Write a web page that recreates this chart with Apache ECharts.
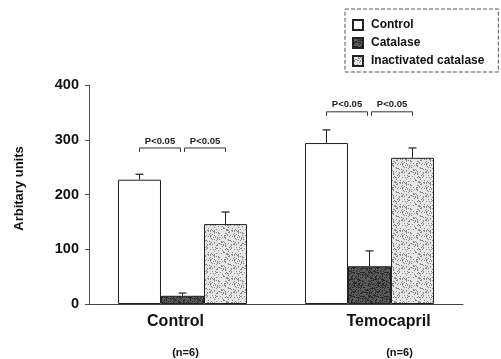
<!DOCTYPE html>
<html>
<head>
<meta charset="utf-8">
<script src="https://cdn.jsdelivr.net/npm/echarts@6/dist/echarts.min.js"></script>
<style>
  html, body { margin: 0; padding: 0; background: #fff; }
  #chart { width: 501px; height: 359px; }
</style>
</head>
<body>
<div id="chart"></div>
<script>
// donnees
const groups = ['Control', 'Temocapril'];
const groupN = ['(n=6)', '(n=6)'];
const seriesNames = ['Control', 'Catalase', 'Inactivated catalase'];
const controlMean = [227, 294];
const catalaseMean = [15, 69];
const inactMean = [146, 267];
const controlErr = [10, 24];
const catalaseErr = [5, 28];
const inactErr = [22, 18];
const bracketLevel = [285, 351];
const pLabel = 'P<0.05';

const gapPct = 31;
const fontFam = '"Liberation Sans", Arial, sans-serif';

// texture "granuleuse" (hachage fixe, pas d'aleatoire)
function makePattern(bg, dot, pct) {
    let n = 24;
    let c = document.createElement('canvas');
    c.width = n; c.height = n;
    let ctx = c.getContext('2d');
    ctx.fillStyle = bg;
    ctx.fillRect(0, 0, n, n);
    ctx.fillStyle = dot;
    for (let i = 0; i < n; i++) {
        for (let j = 0; j < n; j++) {
            let h = ((i * 73856093) ^ (j * 19349663) ^ (i * j * 83492791)) >>> 0;
            if (h % 100 < pct) ctx.fillRect(i, j, 1, 1);
        }
    }
    return { image: c, repeat: 'repeat' };
}

window.onload = init;

function init() {
    let chart = echarts.init(document.getElementById('chart'));

    let means = [controlMean, catalaseMean, inactMean];
    let errs = [controlErr, catalaseErr, inactErr];
    let colors = ['#ffffff', makePattern('#5a5a5a', '#2a2a2a', 35), makePattern('#e6e6e6', '#8a8a8a', 22)];

    let errData = [];
    for (let s = 0; s < 3; s++) {
        for (let g = 0; g < groups.length; g++) {
            errData.push([g, means[s][g], means[s][g] + errs[s][g], s]);
        }
    }
    let bracketData = bracketLevel.map((v, g) => [g, v]);

    function barOffset(api, s) {
        let band = api.size([1, 0])[0];
        let bw = band * (1 - gapPct / 100) / 3;
        return { bw: bw, off: (s - 1) * bw };
    }

    let series = seriesNames.map((name, s) => ({
        name: name,
        type: 'bar',
        data: means[s],
        barGap: '0%',
        barCategoryGap: gapPct + '%',
        itemStyle: { color: colors[s], borderColor: '#222', borderWidth: 1 }
    }));

    series.push({
        type: 'custom',
        data: errData,
        z: 5,
        silent: true,
        renderItem: function (params, api) {
            let g = api.value(0), s = api.value(3);
            let p0 = api.coord([g, api.value(1)]);
            let p1 = api.coord([g, api.value(2)]);
            let o = barOffset(api, s);
            let x = p0[0] + o.off;
            return {
                type: 'group',
                children: [
                    { type: 'line', shape: { x1: x, y1: p0[1], x2: x, y2: p1[1] }, style: { stroke: '#222', lineWidth: 1 } },
                    { type: 'line', shape: { x1: x - 4, y1: p1[1], x2: x + 4, y2: p1[1] }, style: { stroke: '#222', lineWidth: 1.2 } }
                ]
            };
        }
    });

    series.push({
        type: 'custom',
        data: bracketData,
        z: 5,
        silent: true,
        renderItem: function (params, api) {
            let p = api.coord([api.value(0), api.value(1)]);
            let o = barOffset(api, 0);
            let c0 = p[0] - o.bw, c1 = p[0], c2 = p[0] + o.bw;
            let y = p[1];
            let st = { stroke: '#333', lineWidth: 1, fill: null };
            let kids = [];
            [[c0, c1 - 2], [c1 + 2, c2]].forEach(seg => {
                kids.push({ type: 'polyline', shape: { points: [[seg[0], y + 4], [seg[0], y], [seg[1], y], [seg[1], y + 4]] }, style: st });
                kids.push({ type: 'text', style: { text: pLabel, x: (seg[0] + seg[1]) / 2, y: y - 2, align: 'center', verticalAlign: 'bottom', fontSize: 9.5, fontWeight: 'bold', fontFamily: fontFam, fill: '#222' } });
            });
            return { type: 'group', children: kids };
        }
    });

    let options = {
        animation: false,
        backgroundColor: '#ffffff',
        grid: { left: 89, right: 38, top: 85, bottom: 55 },
        legend: {
            data: seriesNames,
            orient: 'vertical',
            left: 345,
            top: 9,
            padding: [10, 14, 5, 7],
            icon: 'rect',
            itemWidth: 10,
            itemHeight: 10,
            itemGap: 6,
            borderColor: '#555',
            borderWidth: 1,
            borderType: 'dashed',
            textStyle: { fontSize: 12, fontFamily: fontFam, color: '#111', fontWeight: 'bold', padding: [0, 0, 0, 3] }
        },
        xAxis: {
            type: 'category',
            data: groups,
            axisLine: { lineStyle: { color: '#444', width: 1 } },
            axisTick: { show: false },
            axisLabel: {
                margin: 8,
                color: '#111',
                fontFamily: fontFam,
                formatter: function (v, i) {
                    return '{a' + i + '|' + v + '}\n{b' + i + '|' + groupN[i] + '}';
                },
                rich: {
                    a0: { fontSize: 16, fontWeight: 'bold', lineHeight: 20, padding: [0, 14, 0, 0], fontFamily: fontFam },
                    a1: { fontSize: 16, fontWeight: 'bold', lineHeight: 20, padding: [0, 0, 0, 38], fontFamily: fontFam },
                    b0: { fontSize: 11, fontWeight: 'bold', lineHeight: 42, padding: [0, 0, 0, 6], fontFamily: fontFam },
                    b1: { fontSize: 11, fontWeight: 'bold', lineHeight: 42, padding: [0, 0, 0, 60], fontFamily: fontFam }
                }
            }
        },
        yAxis: {
            type: 'value',
            min: 0,
            max: 400,
            interval: 100,
            name: 'Arbitary units',
            nameLocation: 'middle',
            nameRotate: 90,
            nameGap: 63,
            nameTextStyle: { fontSize: 13, fontWeight: 'bold', fontFamily: fontFam, color: '#111', padding: [0, 0, 0, 12] },
            axisLine: { show: true, lineStyle: { color: '#555', width: 1 } },
            axisTick: { show: true, length: 4, lineStyle: { color: '#555' } },
            axisLabel: { fontSize: 14.5, fontWeight: 'bold', fontFamily: fontFam, color: '#111', margin: 10 },
            splitLine: { show: false }
        },
        series: series
    };

    chart.setOption(options);
}
</script>
</body>
</html>
